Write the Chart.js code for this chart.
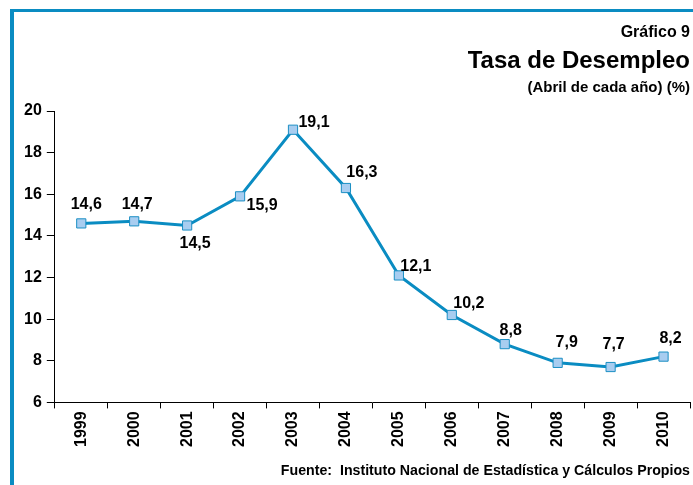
<!DOCTYPE html>
<html lang="es">
<head>
<meta charset="utf-8">
<script src="https://cdn.jsdelivr.net/npm/chart.js@4"></script>
<style>
    html, body { margin: 0; padding: 0; background: #fff; }
    body { width: 693px; height: 485px; position: relative; overflow: hidden; font-family: "Liberation Sans", Arial, sans-serif; }
    .marco { position: absolute; left: 10px; top: 9px; right: 0; bottom: 0; border-top: 3px solid #0a8cc2; border-left: 4px solid #0a8cc2; }
    .titol { position: absolute; right: 3px; text-align: right; font-weight: bold; color: #000; white-space: nowrap; }
    #g9 { top: 23px; font-size: 16px; }
    #tasa { top: 46px; font-size: 24px; }
    #abril { top: 78px; font-size: 15px; }
    #fuente { position: absolute; right: 3px; top: 462px; font-size: 14.2px; font-weight: bold; white-space: nowrap; }
    #wrap { position: absolute; left: 0; top: 0; width: 693px; height: 485px; }
</style>
</head>
<body>
<div class="marco"></div>
<div id="wrap"><canvas id="grafic"></canvas></div>
<div class="titol" id="g9">Gráfico 9</div>
<div class="titol" id="tasa">Tasa de Desempleo</div>
<div class="titol" id="abril">(Abril de cada año) (%)</div>
<div id="fuente">Fuente:&nbsp; Instituto Nacional de Estadística y Cálculos Propios</div>
<script>
const anys = ['1999', '2000', '2001', '2002', '2003', '2004', '2005', '2006', '2007', '2008', '2009', '2010'];
const taxa = [14.6, 14.7, 14.5, 15.9, 19.1, 16.3, 12.1, 10.2, 8.8, 7.9, 7.7, 8.2];
const ticksY = [6, 8, 10, 12, 14, 16, 18, 20];

// desplaçament de cada etiqueta respecte al punt
const labelOffsets = [[5, -19], [3, -17], [8, 18], [22, 9], [21, -7], [16, -15], [17, -9], [17, -11], [6, -14], [9, -20], [3, -22], [7, -18]];

const blau = '#0a8cc2';

const etiquetes = {
    id: 'etiquetes',
    afterDatasetsDraw(chart) {
        const ctx = chart.ctx;
        const meta = chart.getDatasetMeta(0);
        ctx.save();
        ctx.font = 'bold 16px "Liberation Sans", Arial, sans-serif';
        ctx.fillStyle = '#000';
        ctx.textAlign = 'center';
        ctx.textBaseline = 'middle';
        meta.data.forEach((p, i) => {
            const [dx, dy] = labelOffsets[i];
            ctx.fillText(taxa[i].toFixed(1).replace('.', ','), p.x + dx, p.y + dy);
        });
        ctx.restore();
    }
};

new Chart(document.getElementById('grafic').getContext('2d'), {
    type: 'line',
    data: {
        labels: anys,
        datasets: [{
            data: taxa,
            borderColor: blau,
            borderWidth: 3,
            backgroundColor: '#a8cdf0',
            pointStyle: 'rect',
            pointRadius: 6.5,
            pointBorderWidth: 1,
            pointBorderColor: '#1b8fc4',
            pointBackgroundColor: '#a8cdf0',
            tension: 0,
            fill: false
        }]
    },
    options: {
        responsive: true,
        maintainAspectRatio: false,
        animation: false,
        layout: { autoPadding: false, padding: { left: 19, right: 3, top: 111, bottom: 35 } },
        plugins: {
            legend: { display: false },
            tooltip: { enabled: false }
        },
        scales: {
            x: {
                offset: true,
                afterFit: s => { s.paddingRight = 0; },
                grid: { offset: true, drawOnChartArea: false, color: '#000', tickLength: 6 },
                border: { color: '#000', width: 1 },
                ticks: {
                    color: '#000',
                    minRotation: 90,
                    maxRotation: 90,
                    padding: 3,
                    font: { family: '"Liberation Sans", Arial, sans-serif', size: 16, weight: 'bold' }
                }
            },
            y: {
                min: 6,
                max: 20,
                afterBuildTicks: s => { s.ticks = ticksY.map(v => ({ value: v })); },
                grid: { drawOnChartArea: false, color: '#000', tickLength: 8 },
                border: { color: '#000', width: 1 },
                ticks: {
                    color: '#000',
                    padding: 5,
                    font: { family: '"Liberation Sans", Arial, sans-serif', size: 16, weight: 'bold' }
                }
            }
        }
    },
    plugins: [etiquetes]
});
</script>
</body>
</html>
